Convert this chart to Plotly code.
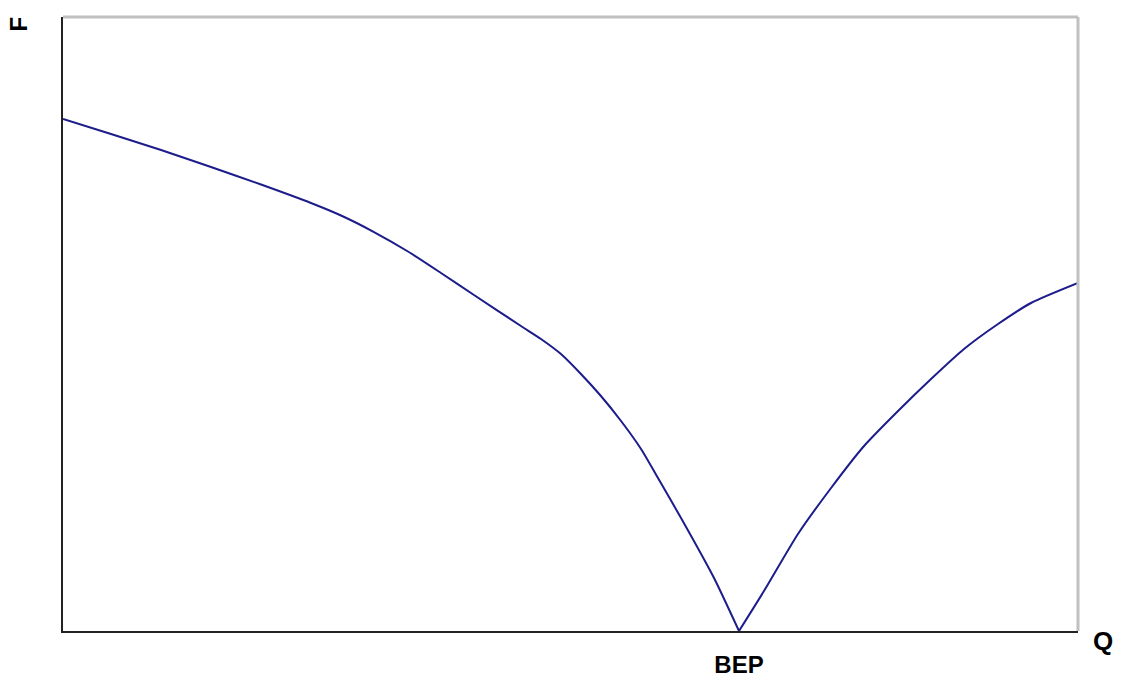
import plotly.graph_objects as go

# Flow rate Q (percent of axis range) and force F (percent of axis range)
q_values = [0.0, 4.73, 9.66, 14.58, 19.51, 24.43, 27.39, 30.64, 33.99, 37.24, 40.49,
            45.12, 47.09, 49.06, 51.03, 53.00, 54.98, 56.95, 58.62, 60.89, 64.14, 66.60,
            69.06, 72.41, 75.67, 78.92, 82.27, 85.52, 88.77, 92.12, 95.37, 100.0]
f_values = [83.39, 80.94, 78.34, 75.57, 72.72, 69.71, 67.67, 64.98, 61.81, 58.31, 54.72,
            49.67, 47.56, 45.11, 41.86, 38.27, 34.20, 29.64, 24.92, 18.40, 8.63, 0.0,
            6.51, 15.80, 23.29, 30.13, 35.83, 41.04, 45.93, 50.00, 53.42, 56.68]
bep_q = [66.6]
bep_labels = ["BEP"]

FONT = "Liberation Sans, Arial, sans-serif"
LINE_COLOR = "#1c1c8a"

i_min = f_values.index(min(f_values))

fig = go.Figure()
# left and right branches drawn as smooth curves meeting in a sharp V at BEP
fig.add_trace(go.Scatter(x=q_values[:i_min + 1], y=f_values[:i_min + 1], mode="lines",
                         line=dict(color=LINE_COLOR, width=2, shape="spline", smoothing=0.6),
                         hoverinfo="skip", showlegend=False))
fig.add_trace(go.Scatter(x=q_values[i_min:], y=f_values[i_min:], mode="lines",
                         line=dict(color=LINE_COLOR, width=2, shape="spline", smoothing=0.6),
                         hoverinfo="skip", showlegend=False))

fig.update_layout(
    width=1108, height=670,
    margin=dict(l=55, r=38, t=9, b=47, autoexpand=False),
    paper_bgcolor="white", plot_bgcolor="white",
    xaxis=dict(range=[0, 100], showgrid=False, zeroline=False, automargin=False,
               showline=True, linecolor="#222222", linewidth=2,
               tickvals=bep_q, ticktext=bep_labels, ticks="outside",
               ticklen=11, tickcolor="rgba(0,0,0,0)",
               tickfont=dict(family=FONT, size=24, color="black", weight="bold")),
    yaxis=dict(range=[0, 100], showgrid=False, zeroline=False, automargin=False,
               showline=True, linecolor="#222222", linewidth=2,
               showticklabels=False, ticks=""),
    shapes=[
        dict(type="line", xref="paper", yref="paper", x0=0, x1=1, y0=1, y1=1,
             line=dict(color="#c0c0c0", width=3)),
        dict(type="line", xref="paper", yref="paper", x0=1, x1=1, y0=0, y1=1,
             line=dict(color="#c0c0c0", width=3)),
    ],
    annotations=[
        dict(text="<b>F</b>", xref="paper", yref="paper", x=-0.0443, y=0.988,
             xanchor="center", yanchor="middle", showarrow=False, textangle=-90,
             borderpad=0, font=dict(family=FONT, size=24, color="black")),
        dict(text="<b>Q</b>", xref="paper", yref="paper", x=1.0365, y=-0.0163,
             xanchor="right", yanchor="middle", showarrow=False,
             font=dict(family=FONT, size=26, color="black")),
    ],
)

fig.write_html("out.html")
